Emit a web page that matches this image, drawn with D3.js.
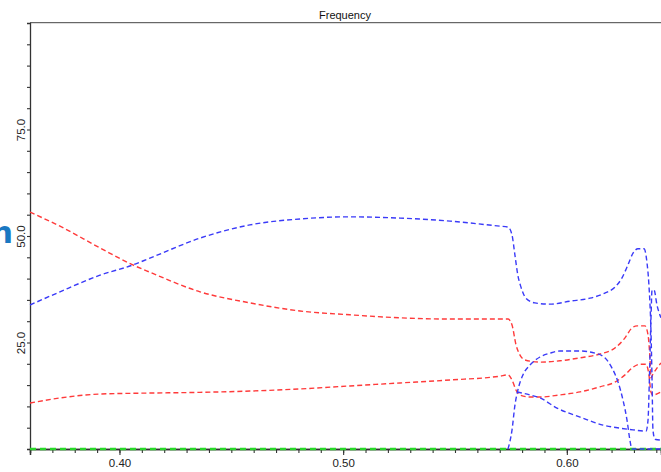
<!DOCTYPE html>
<html><head><meta charset="utf-8">
<script src="https://cdn.jsdelivr.net/npm/d3@7"></script>
<style>
html,body{margin:0;padding:0;background:#fff;overflow:hidden;}
svg{display:block;font-family:"Liberation Sans",Arial,sans-serif;}
</style></head>
<body>
<svg id="chart" width="661" height="472"></svg>
<script>
// ---- data ----
const chartTitle = "Frequency";
const xMajorTicks = [0.40, 0.50, 0.60];
const xMinorTicks = d3.range(37, 65).map(v => v / 100);
const yMajorTicks = [25, 50, 75];
const yMinorTicks = d3.range(5, 100, 5);

const red1X = [0.3600,0.3734,0.3913,0.4060,0.4136,0.4360,0.4583,0.4807,0.5030,0.5254,0.5478,0.5701,0.5737,0.5755,0.5773,0.5790,0.5813,0.5880,0.5969,0.6059,0.6148,0.6215,0.6260,0.6291,0.6314,0.6349,0.6363,0.6372,0.6376,0.6385,0.6403,0.6421];
const red1Y = [55.6,52.3,47.2,43.2,41.5,36.9,34.3,32.4,31.5,30.8,30.5,30.5,30.5,29.1,24.4,22.1,20.9,20.4,20.7,21.4,22.3,23.7,26.1,28.4,28.9,28.9,26.8,20.9,16.7,17.6,19.0,20.2];

const red2X = [0.3600,0.3765,0.3913,0.4092,0.4360,0.4583,0.4807,0.5030,0.5254,0.5478,0.5701,0.5737,0.5755,0.5773,0.5790,0.5835,0.5880,0.5969,0.6059,0.6148,0.6215,0.6260,0.6296,0.6327,0.6354,0.6367,0.6376,0.6385,0.6421];
const red2Y = [10.8,12.2,12.9,13.1,13.3,13.6,14.1,14.8,15.5,16.2,17.1,17.4,16.2,13.8,12.7,12.2,12.2,12.7,13.4,14.6,15.7,17.4,19.2,19.9,19.9,17.4,13.4,12.7,13.4];

const blue1X = [0.3600,0.3734,0.3913,0.4060,0.4136,0.4360,0.4583,0.4807,0.5030,0.5254,0.5478,0.5701,0.5737,0.5755,0.5768,0.5781,0.5795,0.5817,0.5857,0.5925,0.6014,0.6103,0.6170,0.6215,0.6246,0.6273,0.6296,0.6318,0.6345,0.6358,0.6367,0.6376,0.6381,0.6385,0.6394,0.6421];
const blue1Y = [33.8,36.9,40.8,43.2,44.8,49.5,52.6,54.0,54.5,54.2,53.5,52.3,52.1,50.2,45.5,40.8,38.0,35.4,34.3,34.0,34.7,35.4,36.6,38.0,40.1,43.2,46.0,47.0,47.0,43.9,38.5,27.9,16.2,4.5,2.3,2.1];

const blue2X = [0.5737,0.5755,0.5768,0.5781,0.5804,0.5835,0.5880,0.5925,0.5969,0.6059,0.6126,0.6170,0.6202,0.6229,0.6251,0.6269,0.6282,0.6291,0.6421];
const blue2Y = [0,4.5,10.3,13.8,17.4,19.7,21.6,22.5,23.0,23.0,22.5,21.4,19.0,15.7,11.5,6.8,2.1,0,0];

const blue3X = [0.5777,0.5835,0.5880,0.5956,0.6059,0.6162,0.6237,0.6296,0.6354,0.6363,0.6369,0.6376,0.6381,0.6390,0.6403,0.6421];
const blue3Y = [13.4,12.7,12.0,9.6,7.5,5.6,4.9,4.5,4.2,6.8,16.2,30.3,37.3,37.3,33.8,30.8];

const greenX = [0.3600,0.4500,0.5500,0.6421];
const greenY = [0,0,0,0];

// ---- layout ----
const svg = d3.select("#chart");
const mLeft = 30, mRight = 661, mTop = 23, mBottom = 449;
const x = d3.scaleLinear().domain([0.36, 0.6421]).range([mLeft, mRight]);
const y = d3.scaleLinear().domain([0, 100]).range([mBottom, mTop]);

// frame
svg.append("line").attr("x1", mLeft).attr("x2", mRight).attr("y1", 22.7).attr("y2", 22.7)
  .attr("stroke", "#444").attr("stroke-width", 1);

// x axis minor + major
const gxMinor = svg.append("g").attr("transform", `translate(0,${mBottom})`)
  .call(d3.axisBottom(x).tickValues(xMinorTicks).tickSize(4).tickFormat(""));
const gxMajor = svg.append("g").attr("transform", `translate(0,${mBottom})`)
  .call(d3.axisBottom(x).tickValues(xMajorTicks).tickSize(6).tickPadding(4).tickFormat(d3.format(".2f")));
[gxMinor, gxMajor].forEach(g => {
  g.select(".domain").attr("stroke", "#333").attr("stroke-width", 1.5);
  g.selectAll(".tick line").attr("stroke", "#333").attr("stroke-width", 1.1);
});
gxMajor.selectAll(".tick text").attr("font-size", 11.5).attr("fill", "#222")
  .attr("font-family", "'Liberation Sans',Arial,sans-serif");

// y axis
const gy = svg.append("g").attr("transform", `translate(${mLeft},0)`)
  .call(d3.axisLeft(y).tickValues(yMinorTicks).tickSize(3)
    .tickFormat(d => yMajorTicks.includes(d) ? d3.format(".1f")(d) : ""));
gy.select(".domain").attr("stroke", "#333").attr("stroke-width", 1.3);
gy.selectAll(".tick line").attr("stroke", "#333").attr("stroke-width", 1.1);
gy.selectAll(".tick text")
  .attr("x", null).attr("dy", null)
  .attr("transform", "translate(-5,0) rotate(-90)")
  .attr("text-anchor", "middle")
  .attr("font-size", 11.5).attr("fill", "#222")
  .attr("font-family", "'Liberation Sans',Arial,sans-serif");

// title
svg.append("text").attr("x", 345).attr("y", 19).attr("text-anchor", "middle")
  .attr("font-size", 11).attr("fill", "#111").text(chartTitle);

// cropped blue letter on left (cut off at the edge in the reference too)
svg.append("text").attr("x", 13).attr("y", 243).attr("text-anchor", "end")
  .attr("font-size", 31).attr("font-weight", "bold").attr("fill", "#1a78c2")
  .attr("font-family", "'DejaVu Sans',sans-serif").text("n");

// lines
const line = d3.line().x(d => x(d[0])).y(d => y(d[1])).curve(d3.curveMonotoneX);
const series = [
  {xs: greenX, ys: greenY, color: "#2ad82a", w: 2.4, dash: "6,4"},
  {xs: red1X, ys: red1Y, color: "#ff3a3a", w: 1.4, dash: "5,3"},
  {xs: red2X, ys: red2Y, color: "#ff3a3a", w: 1.4, dash: "5,3"},
  {xs: blue1X, ys: blue1Y, color: "#3a3af8", w: 1.4, dash: "5,3"},
  {xs: blue2X, ys: blue2Y, color: "#3a3af8", w: 1.4, dash: "5,3"},
  {xs: blue3X, ys: blue3Y, color: "#3a3af8", w: 1.4, dash: "5,3"}
];
series.forEach(s => {
  svg.append("path").datum(s.xs.map((v, i) => [v, s.ys[i]]))
    .attr("d", line).attr("fill", "none").attr("stroke", s.color)
    .attr("stroke-width", s.w).attr("stroke-dasharray", s.dash);
});
</script>
</body></html>
